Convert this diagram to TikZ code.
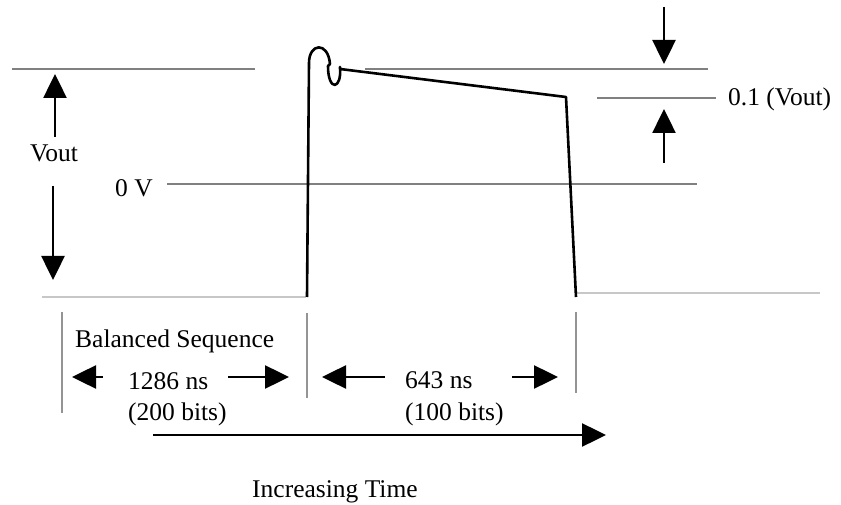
\documentclass[tikz,border=0pt]{standalone}
\usepackage{fontspec}
\setmainfont{Liberation Serif}
\usetikzlibrary{arrows.meta}
\begin{document}
\begin{tikzpicture}[x=1pt,y=-1pt,
  lbl/.style={anchor=base west,inner sep=0pt,font=\fontsize{25.5}{30}\selectfont},
  levelline/.style={draw=black!50,line width=2pt},
  baseline/.style={draw=black!22,line width=2pt},
  marker/.style={draw=black!42,line width=2pt},
  wave/.style={draw=black,line width=2.6pt,line join=round},
  dim/.style={draw=black,line width=2.5pt,-{Triangle[length=24pt,width=23pt]}}]
\useasboundingbox (0,0) rectangle (841,505);
% level lines
\draw[levelline] (12,69) -- (255,69);
\draw[levelline] (365,69) -- (708,69);
\draw[levelline] (597,98) -- (716,98);
\draw[levelline] (167,184) -- (697,184);
\draw[baseline] (42,297) -- (306,297);
\draw[baseline] (577,293) -- (820,293);
% markers
\draw[marker] (62,312) -- (62,413);
\draw[marker] (307,313) -- (307,398);
\draw[marker] (576,312) -- (576,393);
% waveform
\draw[wave] (307,297) -- (309,63)
  .. controls (309,43) and (328,41) .. (330,64)
  -- (328,66) .. controls (328,92) and (342,90) .. (340,67)
  -- (340,69) -- (566,97) -- (576,297);
% texts
\node[lbl] (vout) at (30,162) {Vout};
\node[lbl] (zero) at (115,197) {0 V};
\node[lbl] (tenth) at (728,106) {0.1 (Vout)};
\node[lbl] (bal) at (75,347) {Balanced Sequence};
\node[lbl] (t1) at (128,389) {1286 ns};
\node[lbl] (b1) at (128,420) {(200 bits)};
\node[lbl] (t2) at (405,388) {643 ns};
\node[lbl] (b2) at (405,420) {(100 bits)};
\node[lbl] (inc) at (252,497) {Increasing Time};
% dimension arrows
\coordinate (vu0) at (55,137); \coordinate (vu1) at (55,74);
\coordinate (vd0) at (53,186); \coordinate (vd1) at (53,280);
\coordinate (rd0) at (664,7);  \coordinate (rd1) at (664,64);
\coordinate (ru0) at (664,163); \coordinate (ru1) at (664,109);
\coordinate (a10) at (103,377); \coordinate (a11) at (72,377);
\coordinate (a20) at (228,377); \coordinate (a21) at (289,377);
\coordinate (a30) at (385,377); \coordinate (a31) at (322,377);
\coordinate (a40) at (512,377); \coordinate (a41) at (558,377);
\coordinate (tl0) at (153,435); \coordinate (tl1) at (606,435);
\draw[dim] (vu0) -- (vu1);
\draw[dim] (vd0) -- (vd1);
\draw[dim] (rd0) -- (rd1);
\draw[dim] (ru0) -- (ru1);
\draw[dim] (a10) -- (a11);
\draw[dim] (a20) -- (a21);
\draw[dim] (a30) -- (a31);
\draw[dim] (a40) -- (a41);
\draw[dim] (tl0) -- (tl1);
\end{tikzpicture}
\end{document}
